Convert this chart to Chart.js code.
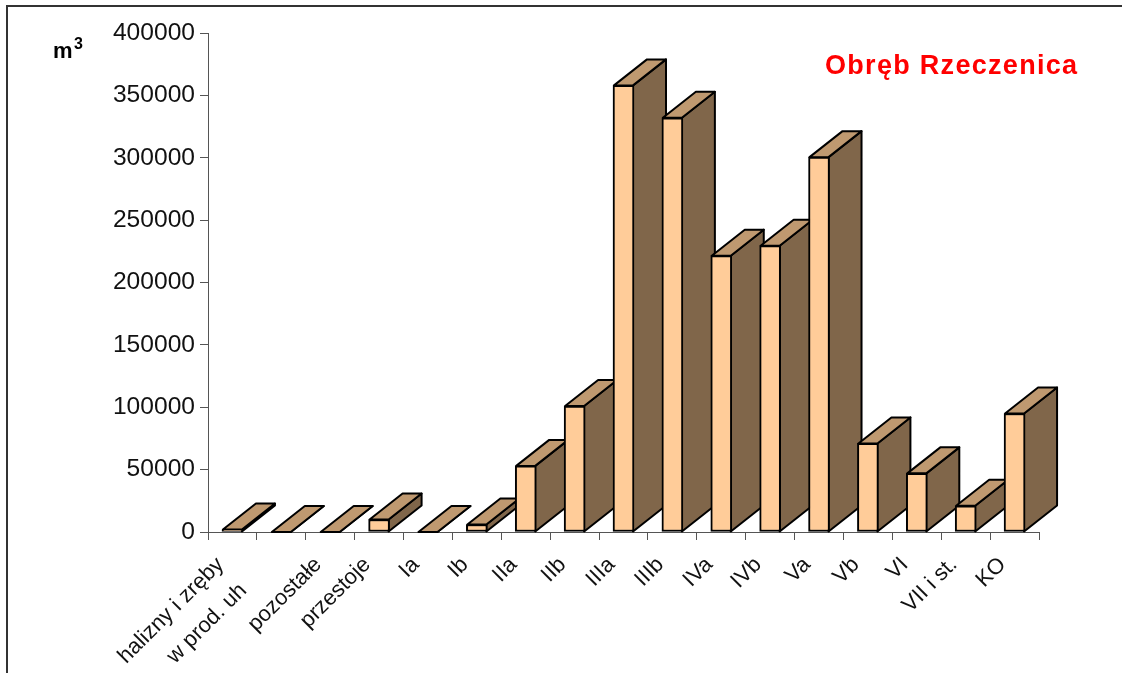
<!DOCTYPE html>
<html>
<head>
<meta charset="utf-8">
<title>Obręb Rzeczenica</title>
<script src="https://cdn.jsdelivr.net/npm/chart.js@4"></script>
<style>
    html, body { margin: 0; padding: 0; background: #fff; }
    canvas { display: block; }
</style>
</head>
<body>
<canvas id="wykres" width="1122" height="673"></canvas>
<script>
const kategorie = ['halizny i zręby', 'w prod. uh', 'pozostałe', 'przestoje', 'Ia', 'Ib', 'IIa', 'IIb', 'IIIa', 'IIIb', 'IVa', 'IVb', 'Va', 'Vb', 'VI', 'VII i st.', 'KO'];
const miazsosc = [2000, 0, 0, 10000, 0, 6000, 53000, 101000, 358000, 332000, 221500, 229500, 300500, 71000, 47000, 21000, 95000];
const yTicki = [0, 50000, 100000, 150000, 200000, 250000, 300000, 350000, 400000];

const GLEBIA_X = 33;
const GLEBIA_Y = 26;

// sciany boczne i gorne slupkow 3D, od lewej do prawej
const slupki3d = {
    id: 'slupki3d',
    beforeDatasetsDraw(chart) {
        const ctx = chart.ctx;
        ctx.save();
        ctx.lineWidth = 2;
        ctx.lineJoin = 'round';
        ctx.strokeStyle = '#000';
        chart.getDatasetMeta(0).data.forEach(bar => {
            const lewo = bar.x - bar.width / 2 + 1;
            const prawo = bar.x + bar.width / 2 - 1;
            const gora = bar.y;
            const dol = bar.base;

            ctx.beginPath();
            ctx.moveTo(prawo, gora);
            ctx.lineTo(prawo + GLEBIA_X, gora - GLEBIA_Y);
            ctx.lineTo(prawo + GLEBIA_X, dol - GLEBIA_Y);
            ctx.lineTo(prawo, dol);
            ctx.closePath();
            ctx.fillStyle = '#80664a';
            ctx.fill();
            ctx.stroke();

            ctx.beginPath();
            ctx.moveTo(lewo, gora);
            ctx.lineTo(lewo + GLEBIA_X, gora - GLEBIA_Y);
            ctx.lineTo(prawo + GLEBIA_X, gora - GLEBIA_Y);
            ctx.lineTo(prawo, gora);
            ctx.closePath();
            ctx.fillStyle = '#bf9970';
            ctx.fill();
            ctx.stroke();
        });
        ctx.restore();
    }
};

// ramka i napisy na wykresie
const opisy = {
    id: 'opisy',
    afterDraw(chart) {
        const ctx = chart.ctx;
        ctx.save();
        ctx.strokeStyle = '#333';
        ctx.lineWidth = 2;
        ctx.beginPath();
        ctx.moveTo(7, 673);
        ctx.lineTo(7, 6);
        ctx.lineTo(1122, 6);
        ctx.stroke();

        ctx.textBaseline = 'alphabetic';
        ctx.fillStyle = '#000';
        ctx.font = 'bold 22px "Liberation Sans"';
        ctx.fillText('m', 53, 58);
        ctx.font = 'bold 16px "Liberation Sans"';
        ctx.fillText('3', 74, 49);

        ctx.fillStyle = '#ff0000';
        ctx.font = 'bold 27px "Liberation Sans"';
        ctx.letterSpacing = '1.3px';
        ctx.fillText('Obręb Rzeczenica', 825, 74);
        ctx.restore();
    }
};

new Chart(document.getElementById('wykres').getContext('2d'), {
    type: 'bar',
    data: {
        labels: kategorie,
        datasets: [{
            label: 'Obręb Rzeczenica',
            data: miazsosc,
            backgroundColor: '#ffcc99',
            borderColor: '#000',
            borderWidth: 2,
            borderSkipped: false,
            barThickness: 21
        }]
    },
    options: {
        responsive: false,
        animation: false,
        layout: { padding: { top: 33, right: 83, left: 0, bottom: 0 } },
        plugins: {
            legend: { display: false },
            title: { display: false },
            tooltip: { enabled: false }
        },
        scales: {
            x: {
                afterFit: scale => { scale.height = 141; },
                grid: { offset: true, drawOnChartArea: false, color: '#555', tickLength: 8 },
                border: { color: '#555' },
                ticks: {
                    autoSkip: false,
                    minRotation: 45,
                    maxRotation: 45,
                    labelOffset: -12,
                    padding: 12,
                    color: '#111',
                    font: { family: '"Liberation Sans"', size: 22 },
                    // w oryginale ten opis jest odsuniety od osi
                    callback: (value, i) => i === 1 ? kategorie[i] + '\u00a0'.repeat(6) : kategorie[i]
                }
            },
            y: {
                min: 0,
                max: 400000,
                afterFit: scale => { scale.width = 208; },
                afterBuildTicks: scale => { scale.ticks = yTicki.map(v => ({ value: v })); },
                grid: { drawOnChartArea: false, color: '#555', tickLength: 8 },
                border: { color: '#555' },
                ticks: {
                    padding: 5,
                    color: '#111',
                    font: { family: '"Liberation Sans"', size: 24.6 },
                    callback: value => String(value)
                }
            }
        }
    },
    plugins: [slupki3d, opisy]
});
</script>
</body>
</html>
